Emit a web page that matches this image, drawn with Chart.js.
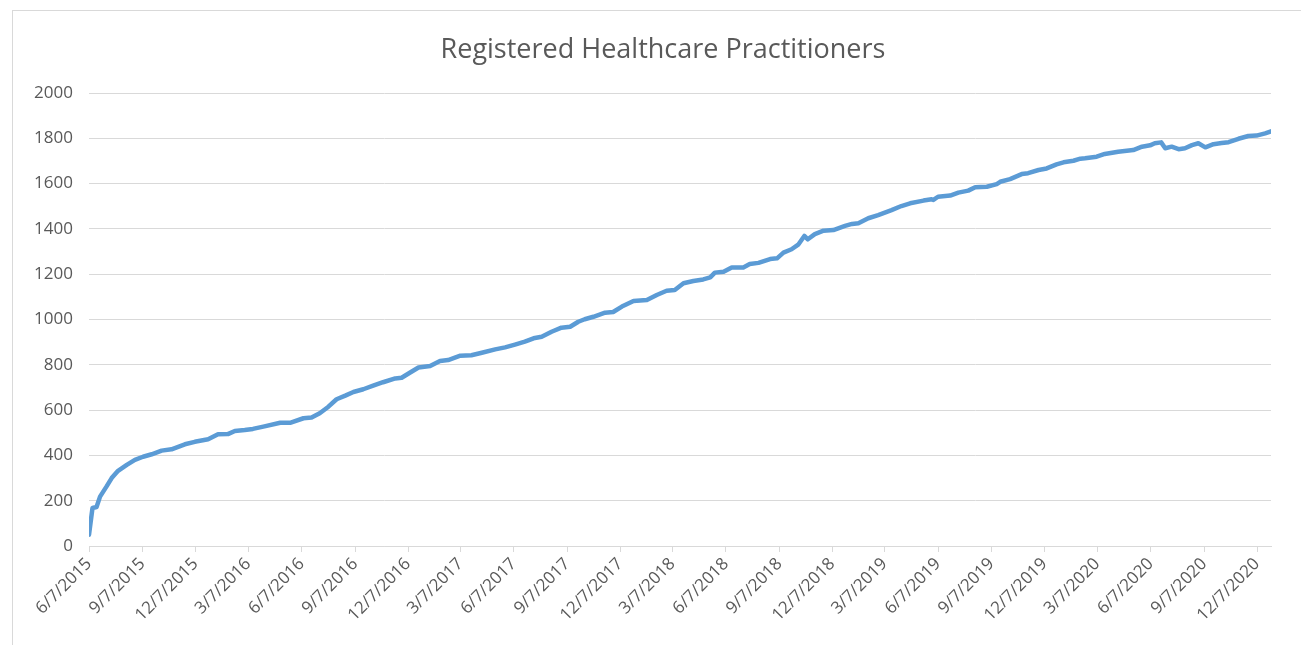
<!DOCTYPE html>
<html>
<head>
<meta charset="utf-8">
<title>Registered Healthcare Practitioners</title>
<script src="https://cdn.jsdelivr.net/npm/chart.js@4.4.1/dist/chart.umd.min.js"></script>
<style>
  html, body { margin: 0; padding: 0; background: #fff; }
  .wrap { position: relative; width: 1301px; height: 645px; overflow: hidden; }
  .frame { position: absolute; left: 12px; top: 10px; width: 1400px; height: 640px; border: 1px solid #d9d9d9; box-sizing: border-box; pointer-events: none; }
  .title { position: absolute; left: 363px; width: 600px; top: 30px; text-align: center; font: 27px 'Open Sans', sans-serif; line-height: 36px; color: #595959; }
  canvas { position: absolute; left: 0; top: 0; }
</style>
</head>
<body>
<div class="wrap">
  <canvas id="chart" width="1301" height="645"></canvas>
  <div class="frame"></div>
  <div class="title">Registered Healthcare Practitioners</div>
</div>
<script>
// values
const dates = [
  '6/7/2015', '6/13/2015', '6/20/2015', '6/26/2015', '7/7/2015', '7/16/2015', '7/27/2015', '8/11/2015',
  '8/25/2015', '9/8/2015', '9/23/2015', '10/10/2015', '10/27/2015', '11/19/2015', '12/6/2015', '12/29/2015',
  '1/15/2016', '2/1/2016', '2/13/2016', '3/1/2016', '3/15/2016', '4/2/2016', '5/1/2016', '5/18/2016',
  '6/10/2016', '6/24/2016', '7/8/2016', '7/23/2016', '8/6/2016', '8/21/2016', '9/4/2016', '9/21/2016',
  '10/8/2016', '10/25/2016', '11/15/2016', '11/26/2016', '12/10/2016', '12/25/2016',
  '1/14/2017', '1/31/2017', '2/14/2017', '3/7/2017', '3/26/2017', '4/13/2017', '5/6/2017', '5/23/2017',
  '6/9/2017', '6/26/2017', '7/11/2017', '7/25/2017', '8/11/2017', '8/28/2017', '9/12/2017', '9/26/2017',
  '10/7/2017', '10/22/2017', '11/11/2017', '11/25/2017', '12/10/2017', '12/30/2017',
  '1/22/2018', '2/8/2018', '2/25/2018', '3/11/2018', '3/26/2018', '4/12/2018', '4/29/2018', '5/11/2018',
  '5/19/2018', '6/3/2018', '6/17/2018', '7/7/2018', '7/18/2018', '8/2/2018', '8/22/2018', '9/3/2018',
  '9/14/2018', '9/28/2018', '10/10/2018', '10/16/2018', '10/20/2018', '10/26/2018', '11/7/2018', '11/22/2018',
  '12/9/2018', '12/29/2018',
  '1/10/2019', '1/21/2019', '2/7/2019', '2/24/2019', '3/19/2019', '4/5/2019', '4/20/2019', '5/13/2019',
  '5/27/2019', '5/30/2019', '6/7/2019', '6/28/2019', '7/12/2019', '7/29/2019', '8/10/2019', '8/30/2019',
  '9/16/2019', '9/22/2019', '10/9/2019', '10/29/2019', '11/9/2019', '11/27/2019', '12/11/2019', '12/28/2019',
  '1/9/2020', '1/26/2020', '2/7/2020', '2/15/2020', '3/6/2020', '3/20/2020', '4/12/2020', '5/8/2020',
  '5/23/2020', '6/6/2020', '6/14/2020', '6/25/2020', '7/2/2020', '7/13/2020', '7/25/2020', '8/5/2020',
  '8/17/2020', '8/28/2020', '9/9/2020', '9/23/2020', '10/7/2020', '10/19/2020', '11/5/2020', '11/22/2020',
  '12/6/2020', '12/21/2020', '12/31/2020'
];

const practitioners = [
  50, 168, 172, 218, 262, 300, 332, 358,
  380, 394, 405, 421, 427, 449, 460, 471,
  493, 494, 508, 512, 517, 527, 544, 544,
  564, 567, 586, 615, 648, 664, 680, 692,
  708, 723, 740, 743, 765, 788,
  795, 817, 821, 840, 842, 853, 868, 877,
  889, 902, 917, 924, 946, 964, 968, 990,
  1001, 1012, 1030, 1033, 1057, 1082,
  1086, 1108, 1127, 1130, 1160, 1170, 1177, 1186,
  1207, 1211, 1230, 1230, 1245, 1250, 1267, 1270,
  1295, 1310, 1332, 1354, 1369, 1354, 1377, 1392,
  1395, 1413,
  1422, 1425, 1447, 1461, 1483, 1501, 1513, 1525,
  1531, 1528, 1542, 1547, 1560, 1569, 1584, 1586,
  1598, 1608, 1620, 1642, 1646, 1660, 1667, 1685,
  1694, 1701, 1710, 1712, 1719, 1731, 1741, 1748,
  1763, 1769, 1778, 1782, 1756, 1763, 1752, 1756,
  1770, 1778, 1760, 1774, 1779, 1783, 1798, 1810,
  1812, 1822, 1831
];

const tickLabels = [
  '6/7/2015', '9/7/2015', '12/7/2015', '3/7/2016', '6/7/2016', '9/7/2016', '12/7/2016',
  '3/7/2017', '6/7/2017', '9/7/2017', '12/7/2017', '3/7/2018', '6/7/2018', '9/7/2018',
  '12/7/2018', '3/7/2019', '6/7/2019', '9/7/2019', '12/7/2019', '3/7/2020', '6/7/2020',
  '9/7/2020', '12/7/2020'
];

const GREY = '#595959';
const GRID = '#d9d9d9';

// m/d/yyyy -> day number
const toDay = (s) => {
  const [m, d, y] = s.split('/').map(Number);
  return Date.UTC(y, m - 1, d) / 86400000;
};

document.addEventListener('DOMContentLoaded', () => {
  const ctx = document.querySelector('#chart');

  const data = {
    datasets: [{
      label: 'Registered Healthcare Practitioners',
      data: dates.map((d, i) => ({ x: toDay(d), y: practitioners[i] })),
      borderColor: '#5b9bd5',
      borderWidth: 4.5,
      borderJoinStyle: 'round',
      borderCapStyle: 'round',
      pointRadius: 0,
      tension: 0,
      fill: false
    }]
  };

  const config = {
    type: 'line',
    data: data,
    options: {
      responsive: false,
      animation: false,
      // title sits in the html above, so the plot top is set by padding
      layout: { padding: { left: 0, right: 30, top: 93, bottom: 0 } },
      scales: {
        x: {
          type: 'linear',
          min: toDay(dates[0]),
          max: toDay(dates[dates.length - 1]),
          afterBuildTicks: (scale) => {
            scale.ticks = tickLabels.map((t) => ({ value: toDay(t) }));
          },
          afterFit: (scale) => { scale.height = 99; },
          grid: { drawOnChartArea: false, drawTicks: true, tickLength: 6, color: GRID },
          border: { color: GRID, width: 1 },
          ticks: {
            autoSkip: false,
            minRotation: 45,
            maxRotation: 45,
            padding: 2,
            color: GREY,
            font: { family: 'Open Sans', size: 17 },
            callback: (value, index) => tickLabels[index]
          }
        },
        y: {
          min: 0,
          max: 2000,
          afterFit: (scale) => { scale.width = 89; },
          grid: { drawTicks: false, color: GRID },
          border: { display: false },
          ticks: {
            stepSize: 200,
            padding: 16,
            color: GREY,
            font: { family: 'Open Sans', size: 17 },
            callback: (value) => String(value)
          }
        }
      },
      plugins: {
        legend: { display: false },
        tooltip: { enabled: false },
        title: { display: false }
      }
    }
  };

  new Chart(ctx, config);
});
</script>
</body>
</html>
